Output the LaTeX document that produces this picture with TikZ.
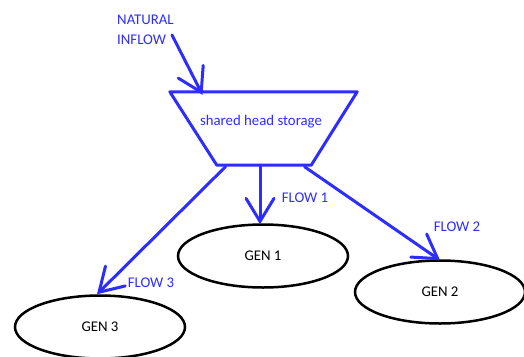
\documentclass[tikz,border=0pt]{standalone}
\usepackage{fontspec}
\setmainfont{Carlito}
\usetikzlibrary{arrows.meta,calc,shapes.geometric}
\definecolor{flowblue}{RGB}{45,45,255}
\tikzset{
  pipe/.style={draw=flowblue, line width=3pt, line cap=round,
    -{Straight Barb[length=23pt,width=28pt,line cap=round]}},
  bluetext/.style={text=flowblue, font=\fontsize{14.8}{20}\selectfont, inner sep=0pt},
  genbox/.style={ellipse, draw=black, line width=2.5pt, minimum width=170pt,
    minimum height=63pt, font=\fontsize{14.8}{20}\selectfont, text=black},
  storebox/.style={rectangle, minimum width=187pt, minimum height=73pt, inner sep=0pt},
  storeline/.style={draw=flowblue, line width=3pt, line join=round},
}
\begin{document}
\begin{tikzpicture}[x=1pt, y=-1pt]
  \useasboundingbox (0,0) rectangle (524,356);

  % reservoir: frame node, tapered outline and its label
  \node[storebox] (store) at (263.5,128.5) {};
  \draw[storeline] (store.north west) -- (store.north east)
    -- ($(store.south east)+(-46pt,0)$) -- ($(store.south west)+(47pt,0)$) -- cycle;
  \node[bluetext] (storelabel) at (261,122) {shared head storage};

  % inflow label and arrow
  \node[bluetext, align=left, anchor=west] (inflow) at (117,30) {NATURAL\\INFLOW};
  \coordinate (inflowstart) at (172,35);
  \coordinate (inflowend) at ($(store.north)+(-61pt,-3pt)$);
  \draw[pipe] (inflowstart) -- (inflowend);

  % generators
  \node[genbox] (gen1) at (263,256) {GEN 1};
  \node[genbox] (gen2) at (440,292) {GEN 2};
  \node[genbox] (gen3) at (100,327) {GEN 3};

  % outflows
  \draw[pipe] ($(store.south)+(-3.5pt,0)$) -- ($(store.south |- gen1.north)+(-3.5pt,-1pt)$);
  \draw[pipe] ($(store.south)+(41pt,-1.5pt)$) -- ($(gen2.north)+(0,-1pt)$);
  \draw[pipe] ($(store.south)+(-38pt,-1.5pt)$) -- ($(gen3.north)+(-3pt,0)$);

  % flow labels
  \node[bluetext] (f1) at (305,198) {FLOW 1};
  \node[bluetext] (f2) at (457,227) {FLOW 2};
  \node[bluetext] (f3) at (151,283) {FLOW 3};
\end{tikzpicture}
\end{document}
